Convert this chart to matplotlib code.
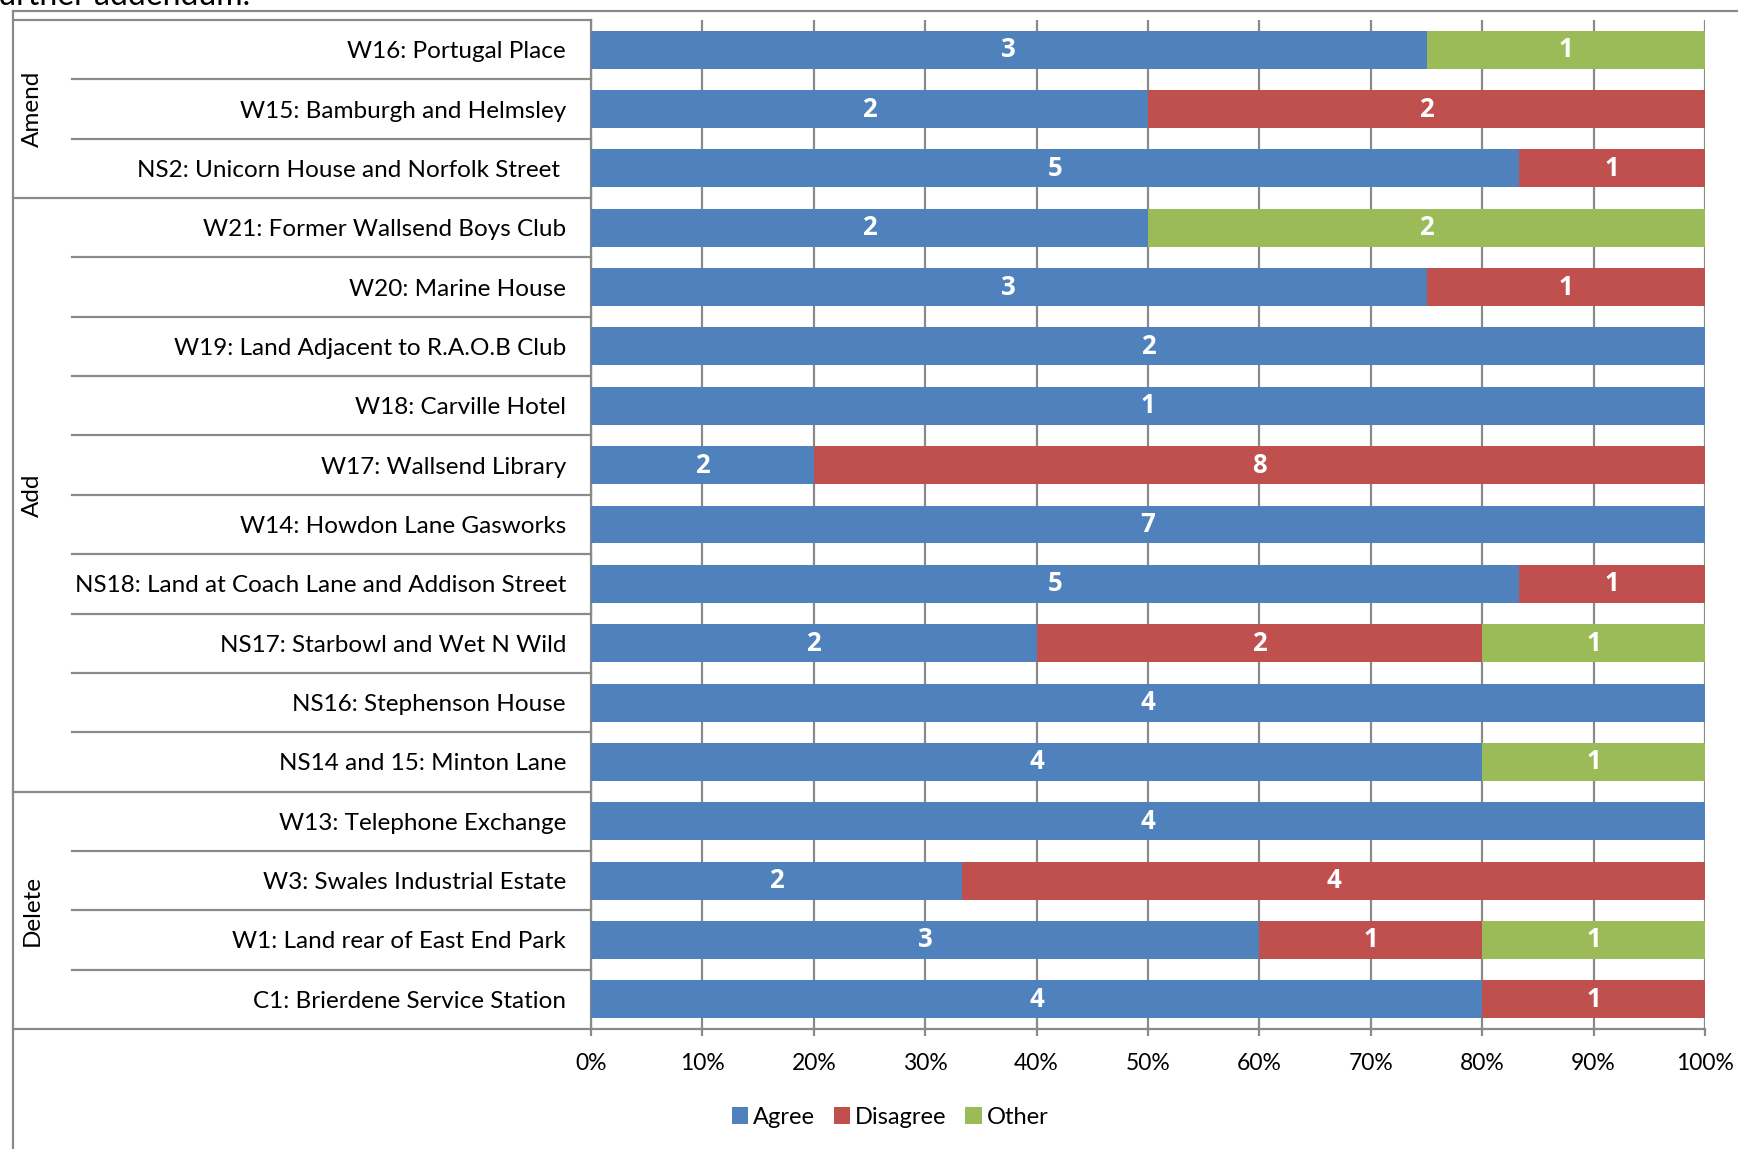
import numpy as np
import matplotlib
matplotlib.use("Agg")
from matplotlib import pyplot as plt
from matplotlib.lines import Line2D
from matplotlib.transforms import blended_transform_factory

sites = ["W16: Portugal Place", "W15: Bamburgh and Helmsley",
         "NS2: Unicorn House and Norfolk Street ", "W21: Former Wallsend Boys Club",
         "W20: Marine House", "W19: Land Adjacent to R.A.O.B Club",
         "W18: Carville Hotel", "W17: Wallsend Library", "W14: Howdon Lane Gasworks",
         "NS18: Land at Coach Lane and Addison Street", "NS17: Starbowl and Wet N Wild",
         "NS16: Stephenson House", "NS14 and 15: Minton Lane",
         "W13: Telephone Exchange", "W3: Swales Industrial Estate",
         "W1: Land rear of East End Park", "C1: Brierdene Service Station"]
agree    = [3, 2, 5, 2, 3, 2, 1, 2, 7, 5, 2, 4, 4, 4, 2, 3, 4]
disagree = [0, 2, 1, 0, 1, 0, 0, 8, 0, 1, 2, 0, 0, 0, 4, 1, 1]
other    = [1, 0, 0, 2, 0, 0, 0, 0, 0, 0, 1, 0, 1, 0, 0, 1, 0]
groups = ["Amend", "Add", "Delete"]
group_sizes = [3, 10, 4]
series_names = ["Agree", "Disagree", "Other"]
colors = ["#4F81BD", "#C0504D", "#9BBB59"]

W, H = 1738, 1149
plt.rcParams['font.family'] = ['Lato', 'DejaVu Sans']
GRID = "#8a8a8a"


def fx(px):
    return px / W


def fy(py):
    return 1 - py / H


def main():
    fig = plt.figure(figsize=(W / 100, H / 100), dpi=100)
    ax = fig.add_axes([fx(591), fy(1029), fx(1705) - fx(591), fy(20) - fy(1029)])

    counts = np.array([agree, disagree, other], dtype=float)
    totals = counts.sum(axis=0)
    shares = counts / totals * 100
    y = np.arange(len(sites))

    left = np.zeros(len(sites))
    for i in range(3):
        bars = ax.barh(y, shares[i], left=left, height=0.64, color=colors[i],
                       label=series_names[i], zorder=3)
        labels = [str(int(c)) if c > 0 else "" for c in counts[i]]
        ax.bar_label(bars, labels=labels, label_type='center', color='white',
                     fontsize=18.5, fontweight='bold', family=['Open Sans', 'DejaVu Sans'])
        left += shares[i]

    ax.set_xlim(0, 100)
    ax.set_ylim(len(sites) - 0.5, -0.5)
    ax.set_xticks(np.arange(0, 101, 10))
    ax.set_xticklabels([f"{v}%" for v in range(0, 101, 10)], fontsize=16.5)
    ax.tick_params(axis='x', length=5, width=1.6, color=GRID, pad=12)
    ax.set_yticks(y)
    ax.set_yticklabels(sites, fontsize=17.5)
    ax.tick_params(axis='y', length=0, pad=18)
    ax.xaxis.grid(True, color=GRID, linewidth=1.6, zorder=0)
    ax.set_axisbelow(True)
    for s in ["top", "right", "bottom"]:
        ax.spines[s].set_visible(False)
    ax.spines["left"].set_color(GRID)
    ax.spines["left"].set_linewidth(1.6)

    # category table lines (x in figure, y in data)
    tr = blended_transform_factory(fig.transFigure, ax.transData)
    starts = np.cumsum([0] + group_sizes)
    for k in range(1, len(sites)):
        x0 = fx(13) if k in starts else fx(72)
        ax.add_line(Line2D([x0, fx(591)], [k - 0.5, k - 0.5], transform=tr,
                           color=GRID, linewidth=1.6, clip_on=False))
    ax.add_line(Line2D([fx(13), fx(591)], [-0.5, -0.5], transform=tr,
                       color=GRID, linewidth=1.6, clip_on=False))
    ax.add_line(Line2D([fx(13), fx(1705)], [len(sites) - 0.5] * 2, transform=tr,
                       color=GRID, linewidth=1.6, clip_on=False))
    for g, a, b in zip(groups, starts[:-1], starts[1:]):
        ax.text(fx(32), (a + b - 1) / 2, g, transform=tr, rotation=90,
                ha='center', va='center', fontsize=17.5)

    # outer frame of the chart
    fig.add_artist(Line2D([fx(13), 1], [fy(11), fy(11)], color=GRID, linewidth=1.6))
    fig.add_artist(Line2D([fx(13), fx(13)], [fy(11), 0], color=GRID, linewidth=1.6))
    # tail of the surrounding document text, cut by the top edge
    fig.text(fx(-13), fy(5), "further addendum.", fontsize=23, va='baseline')

    fig.legend(loc='center', bbox_to_anchor=(fx(890), fy(1117)), ncol=3,
               frameon=False, fontsize=17, handlelength=0.7, handleheight=0.7,
               handletextpad=0.2, columnspacing=0.8)

    fig.savefig("out.png", dpi=100)


if __name__ == '__main__':
    main()
